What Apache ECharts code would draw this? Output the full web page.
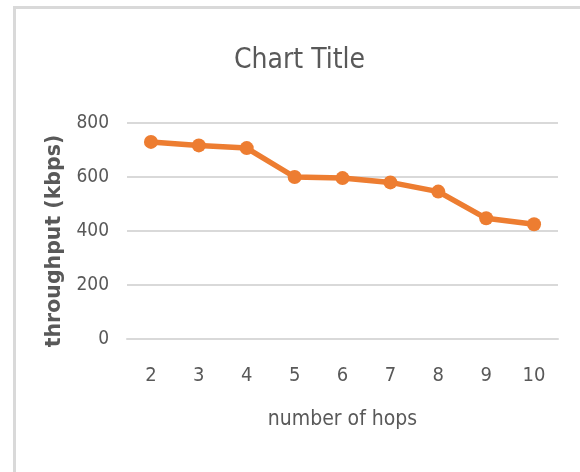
<!DOCTYPE html>
<html>
<head>
    <meta charset="UTF-8">
    <title>Chart Title</title>
    <script type="text/javascript" src="https://cdn.jsdelivr.net/npm/echarts@6/dist/echarts.min.js"></script>
    <style>
        html, body { margin: 0; padding: 0; background: #fff; }
    </style>
</head>
<body>
    <div id="main" style="width: 580px;height:472px;"></div>
    <script type="text/javascript">
var hops = ['2', '3', '4', '5', '6', '7', '8', '9', '10'];
var throughput = [730, 717, 707, 600, 596, 580, 546, 447, 425];
var yTicks = [0, 200, 400, 600, 800];

var narrow = '"Liberation Sans Narrow", "DejaVu Sans Condensed", sans-serif';
var myChart = echarts.init(document.getElementById('main'));

var option = {
  backgroundColor: '#fff',
  animation: false,
  title: {
    text: 'Chart Title',
    left: 229,
    top: 42,
    textStyle: {
      fontFamily: narrow,
      fontSize: 28,
      fontWeight: 'normal',
      color: '#595959',
    },
  },
  graphic: [
    {
      type: 'rect',
      shape: { x: 14.5, y: 7.5, width: 700, height: 600 },
      style: { fill: null, stroke: '#d9d9d9', lineWidth: 3 },
      silent: true,
    },
  ],
  grid: {
    top: 123,
    bottom: 133,
    left: 127,
    right: 22,
  },
  xAxis: {
    type: 'category',
    data: hops,
    name: 'number of hops',
    nameLocation: 'middle',
    nameGap: 70,
    nameTextStyle: {
      fontFamily: narrow,
      fontSize: 21,
      color: '#595959',
    },
    axisLine: { show: true, lineStyle: { color: '#d9d9d9', width: 2 } },
    axisTick: { show: false },
    axisLabel: {
      margin: 27,
      fontFamily: narrow,
      fontSize: 20,
      color: '#595959',
    },
  },
  yAxis: {
    type: 'value',
    min: yTicks[0],
    max: yTicks[yTicks.length - 1],
    interval: 200,
    name: 'throughput (kbps)',
    nameLocation: 'middle',
    nameGap: 50,
    nameTextStyle: {
      fontFamily: '"DejaVu Sans", sans-serif',
      fontWeight: 'bold',
      fontSize: 20.5,
      color: '#595959',
      padding: [0, 20, 0, 0],
    },
    axisLine: { show: false },
    axisTick: { show: false },
    axisLabel: {
      margin: 18,
      fontFamily: narrow,
      fontSize: 19,
      color: '#595959',
    },
    splitLine: {
      show: true,
      lineStyle: { color: '#d9d9d9', width: 2 },
    },
  },
  series: [
    {
      type: 'line',
      data: throughput,
      symbol: 'circle',
      symbolSize: 14,
      itemStyle: { color: '#ED7D31' },
      lineStyle: { color: '#ED7D31', width: 5.5 },
    },
  ],
};

myChart.setOption(option);
    </script>
</body>
</html>
